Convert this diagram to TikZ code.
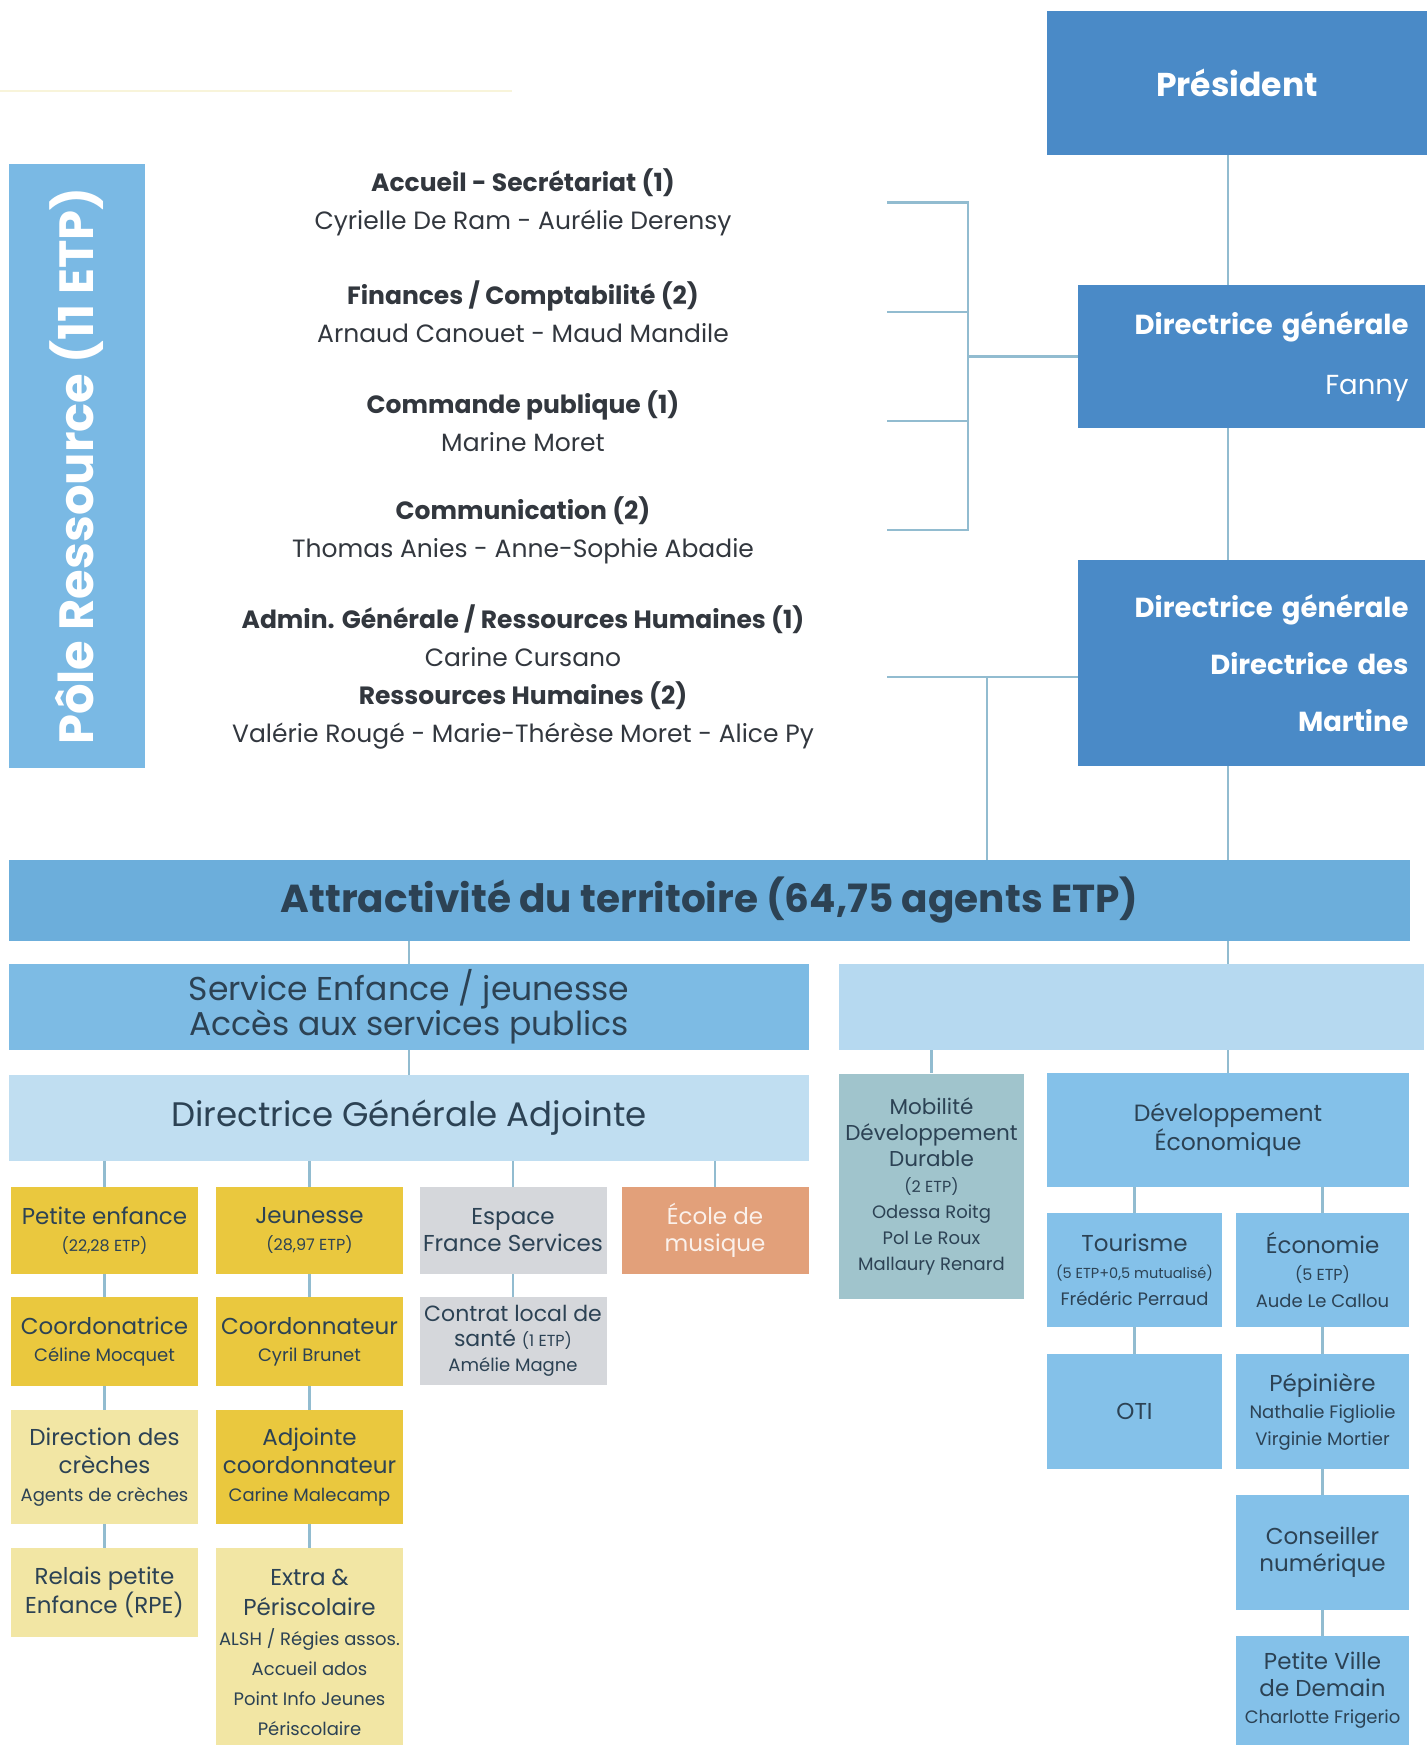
\documentclass[tikz,border=0pt]{standalone}
\usepackage{fontspec}
\setmainfont{Poppins}
\usetikzlibrary{calc}
\definecolor{bleuF}{RGB}{74,138,199}
\definecolor{bleuP}{RGB}{122,185,228}
\definecolor{bleuA}{RGB}{108,174,219}
\definecolor{bleuS}{RGB}{125,187,228}
\definecolor{bleuC}{RGB}{192,222,241}
\definecolor{bleuV}{RGB}{182,217,240}
\definecolor{bleuD}{RGB}{132,193,233}
\definecolor{grisbleu}{RGB}{160,196,204}
\definecolor{jaune}{RGB}{234,200,62}
\definecolor{jauneP}{RGB}{242,230,164}
\definecolor{jauneL}{RGB}{248,244,218}
\definecolor{gris}{RGB}{213,215,219}
\definecolor{saumon}{RGB}{226,160,122}
\definecolor{trait}{RGB}{146,188,208}
\definecolor{encre}{RGB}{50,55,62}
\definecolor{marine}{RGB}{44,66,84}
\newcommand\ptxt[1]{{\fontsize{16}{26}\selectfont #1}}
\newcommand\nom[1]{{\fontsize{18}{26}\selectfont #1}}
\tikzset{
  ln/.style={draw=trait, line width=2.8pt},
  boite/.style={rectangle, inner sep=0pt, align=center, text=marine},
  chef/.style={boite, fill=bleuF, text=white, minimum width=347pt},
  txt/.style={align=center, text=encre, inner sep=0pt, font=\fontsize{25}{38}\selectfont},
  petite/.style={boite, minimum width=187pt, minimum height=87pt, font=\fontsize{23}{27}\selectfont},
}
\begin{document}
\begin{tikzpicture}[x=1pt, y=-1pt, line cap=butt]
\useasboundingbox (0,0) rectangle (1427,1745);
\draw[draw=jauneL, line width=2pt] (0,91) -- (512,91);
% direction
\node[boite, fill=bleuF, text=white, minimum width=380pt, minimum height=144pt, font=\fontsize{33}{40}\selectfont\bfseries] (pres) at (1237,83) {Président};
\node[chef, minimum height=143pt, text width=314pt, align=right, font=\fontsize{27.5}{60}\selectfont\bfseries] (dg1) at (1251.5,356.5) {Directrice générale\\\mdseries Fanny};
\node[chef, minimum height=206pt, text width=314pt, align=right, font=\fontsize{27.5}{57}\selectfont\bfseries] (dg2) at (1251.5,663) {Directrice générale\\Directrice des\\Martine};
% pole ressource
\node[boite, fill=bleuP, text=white, rotate=90, minimum width=604pt, minimum height=136pt, font=\fontsize{48}{52}\selectfont\bfseries] (pole) at (77,466) {Pôle Ressource (11 ETP)};
\node[txt] (acc) at (523,202.5) {\textbf{Accueil - Secrétariat (1)}\\Cyrielle De Ram - Aurélie Derensy};
\node[txt] (fin) at (523,312) {\textbf{Finances / Comptabilité (2)}\\Arnaud Canouet - Maud Mandile};
\node[txt] (cmd) at (523,421) {\textbf{Commande publique (1)}\\Marine Moret};
\node[txt] (com) at (523,530) {\textbf{Communication (2)}\\Thomas Anies - Anne-Sophie Abadie};
\node[txt] (rh) at (523,677) {\textbf{Admin. Générale / Ressources Humaines (1)}\\Carine Cursano\\\textbf{Ressources Humaines (2)}\\Valérie Rougé - Marie-Thérèse Moret - Alice Py};
\coordinate (bg) at (887,0);
\coordinate (bd) at (968,0);
\coordinate (v2) at (987,0);
\coordinate (axe) at (1228,0);
% attractivite
\node[boite, fill=bleuA, minimum width=1401pt, minimum height=81pt, font=\fontsize{39}{44}\selectfont\bfseries] (att) at (709.5,900.5) {Attractivité du territoire (64,75 agents ETP)};
\node[boite, fill=bleuS, minimum width=800pt, minimum height=86pt, font=\fontsize{33}{35}\selectfont] (svc) at (409,1007) {Service Enfance / jeunesse\\Accès aux services publics};
\node[boite, fill=bleuV, minimum width=585pt, minimum height=86pt] (vide) at (1131.5,1007) {};
\node[boite, fill=bleuC, minimum width=800pt, minimum height=86pt, font=\fontsize{34}{40}\selectfont] (dga) at (409,1118) {Directrice Générale Adjointe};
% enfance jeunesse
\node[petite, fill=jaune] (pe) at (104.5,1230.5) {Petite enfance\\\ptxt{(22,28 ETP)}};
\node[petite, fill=jaune] (jeu) at (309.5,1230.5) {Jeunesse\\\ptxt{(28,97 ETP)}};
\node[petite, fill=gris] (efs) at (513,1230.5) {Espace\\France Services};
\node[petite, fill=saumon, text=white!85!saumon] (ecm) at (715,1230.5) {École de\\musique};
\node[petite, fill=jaune, minimum height=89pt] (cpe) at (104.5,1341.5) {Coordonatrice\\\nom{Céline Mocquet}};
\node[petite, fill=jaune, minimum height=89pt] (cje) at (309.5,1341.5) {Coordonnateur\\\nom{Cyril Brunet}};
\node[petite, fill=gris, minimum height=88pt, font=\fontsize{22}{25}\selectfont] (cls) at (513,1341) {Contrat local de\\santé \ptxt{(1 ETP)}\\\nom{Amélie Magne}};
\node[petite, fill=jauneP, minimum height=114pt, font=\fontsize{23}{28}\selectfont] (cre) at (104.5,1467) {Direction des\\crèches\\\nom{Agents de crèches}};
\node[petite, fill=jaune, minimum height=114pt, font=\fontsize{23}{28}\selectfont] (adj) at (309.5,1467) {Adjointe\\coordonnateur\\\nom{Carine Malecamp}};
\node[petite, fill=jauneP, minimum height=89pt] (rpe) at (104.5,1592.5) {Relais petite\\Enfance (RPE)};
\node[petite, fill=jauneP, minimum height=208pt, font=\fontsize{23}{30}\selectfont] (extra) at (309.5,1652) {Extra \&\\Périscolaire\\\nom{ALSH / Régies assos.}\\\nom{Accueil ados}\\\nom{Point Info Jeunes}\\\nom{Périscolaire}};
% developpement
\node[boite, fill=grisbleu, minimum width=185pt, minimum height=225pt, font=\fontsize{21.5}{26}\selectfont] (mob) at (931.5,1186) {Mobilité\\Développement\\Durable\\\ptxt{(2 ETP)}\\\nom{Odessa Roitg}\\\nom{Pol Le Roux}\\\nom{Mallaury Renard}};
\node[boite, fill=bleuD, minimum width=362pt, minimum height=114pt, font=\fontsize{23.5}{29}\selectfont] (deveco) at (1228,1130) {Développement\\Économique};
\node[petite, fill=bleuD, minimum width=175pt, minimum height=114pt, font=\fontsize{23}{27}\selectfont] (tour) at (1134.5,1270) {Tourisme\\{\fontsize{14.5}{26}\selectfont(5 ETP+0,5 mutualisé)}\\\nom{Frédéric Perraud}};
\node[petite, fill=bleuD, minimum width=173pt, minimum height=114pt, font=\fontsize{23}{27}\selectfont] (eco) at (1322.5,1270) {Économie\\\ptxt{(5 ETP)}\\\nom{Aude Le Callou}};
\node[petite, fill=bleuD, minimum width=175pt, minimum height=115pt] (oti) at (1134.5,1411.5) {OTI};
\node[petite, fill=bleuD, minimum width=173pt, minimum height=115pt] (pep) at (1322.5,1411.5) {Pépinière\\\nom{Nathalie Figliolie}\\\nom{Virginie Mortier}};
\node[petite, fill=bleuD, minimum width=173pt, minimum height=115pt] (cnum) at (1322.5,1552.5) {Conseiller\\numérique};
\node[petite, fill=bleuD, minimum width=173pt, minimum height=109pt] (pvd) at (1322.5,1690.5) {Petite Ville\\de Demain\\\nom{Charlotte Frigerio}};
% liaisons
\draw[ln] (acc -| bg) -- (acc -| bd) -- (com -| bd) -- (com -| bg);
\draw[ln] (fin -| bg) -- (fin -| bd);
\draw[ln] (cmd -| bg) -- (cmd -| bd);
\draw[ln] (dg1.west -| bd) -- (dg1.west);
\draw[ln] (rh -| bg) -- (rh -| dg2.west);
\draw[ln] (rh -| v2) -- (att.north -| v2);
\draw[ln] (pres.south -| axe) -- (dg1.north -| axe);
\draw[ln] (dg1.south -| axe) -- (dg2.north -| axe);
\draw[ln] (dg2.south -| axe) -- (att.north -| axe);
\draw[ln] (att.south -| axe) -- (vide.north -| axe);
\draw[ln] (vide.south -| axe) -- (deveco.north -| axe);
\draw[ln] (att.south -| svc) -- (svc.north);
\draw[ln] (svc.south) -- (dga.north);
\draw[ln] (vide.south -| mob) -- (mob.north);
\foreach \n in {pe,jeu,efs,ecm} \draw[ln] (dga.south -| \n) -- (\n.north);
\foreach \n in {tour,eco} \draw[ln] (deveco.south -| \n) -- (\n.north);
\foreach \haut/\bas in {pe/cpe,jeu/cje,efs/cls,cpe/cre,cje/adj,cre/rpe,adj/extra,tour/oti,eco/pep,pep/cnum,cnum/pvd}
  \draw[ln] (\haut.south) -- (\bas.north);
\end{tikzpicture}
\end{document}
